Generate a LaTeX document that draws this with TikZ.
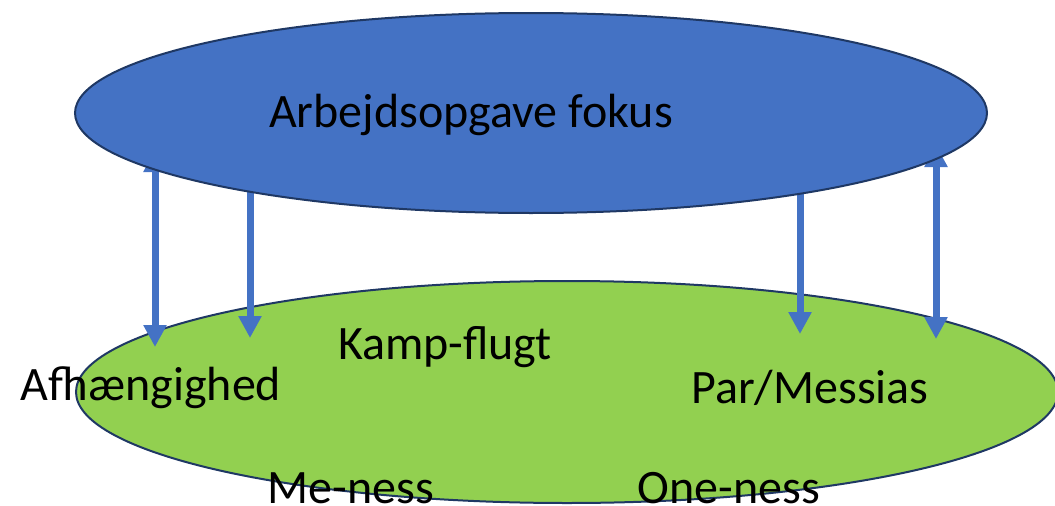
\documentclass[tikz,border=0pt]{standalone}
\usepackage{fontspec}
\setmainfont{Carlito}
\usetikzlibrary{shapes.geometric, arrows.meta}

\definecolor{taskblue}{HTML}{4472C4}
\definecolor{basicgreen}{HTML}{92D050}
\definecolor{rimnavy}{HTML}{1F3864}

\begin{document}
\begin{tikzpicture}[x=1pt, y=-1pt]%
        \tikzstyle{group}=[ellipse, draw=rimnavy, line width=2pt, inner sep=0pt];%
        \tikzstyle{label}=[inner sep=0pt, font=\fontsize{48}{52}\selectfont];%
        \tikzstyle{link}=[draw=taskblue, line width=7pt, -{Triangle[width=22pt, length=22pt]}];%
        \useasboundingbox (0, 0) rectangle (1055, 506);

        \node[group, fill=basicgreen, minimum width=982, minimum height=222] (basic) at (567, 392) {};

        \coordinate (a1) at (155, 150);
        \coordinate (b1) at (155, 347);
        \coordinate (a2) at (250, 190);
        \coordinate (b2) at (250, 338);
        \coordinate (a3) at (800, 193);
        \coordinate (b3) at (800, 334);
        \coordinate (a4) at (936, 145);
        \coordinate (b4) at (936, 339);

        \draw (a1) edge[link, {Triangle[width=22pt, length=22pt]}-{Triangle[width=22pt, length=22pt]}] (b1);
        \draw (a2) edge[link] (b2);
        \draw (a3) edge[link] (b3);
        \draw (a4) edge[link, {Triangle[width=22pt, length=22pt]}-{Triangle[width=22pt, length=22pt]}] (b4);

        \node[group, fill=taskblue, minimum width=912, minimum height=200] (task) at (531, 113) {};

        \node[label] (fokus) at (471, 115) {Arbejdsopgave fokus};
        \node[label] (kamp) at (445, 347) {Kamp-flugt};
        \node[label] (afh) at (151, 388) {Afhængighed};
        \node[label] (par) at (810, 388) {Par/Messias};
        \node[label] (me) at (351, 488) {Me-ness};
        \node[label] (one) at (729, 488) {One-ness};
    \end{tikzpicture}
\end{document}
